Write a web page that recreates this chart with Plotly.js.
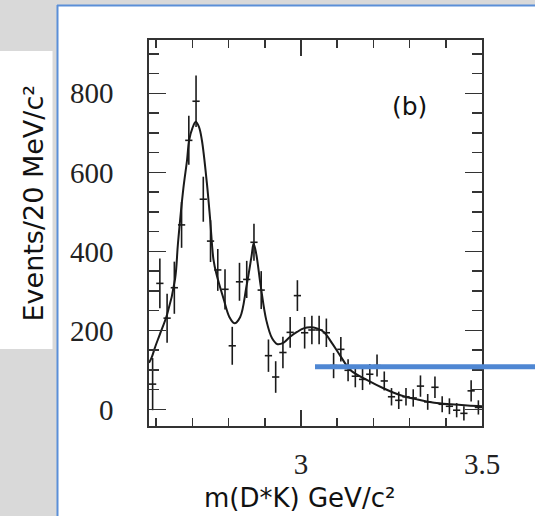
<!DOCTYPE html>
<html>
<head>
<meta charset="utf-8">
<script src="https://cdn.plot.ly/plotly-3.0.1.min.js"></script>
<style>html,body{margin:0;padding:0;background:#fff;}#plot{width:535px;height:516px;}</style>
</head>
<body>
<div id="plot"></div>
<script>
// Measured data points (bin centres, GeV/c^2)
const massBins = [2.59,2.61,2.63,2.65,2.67,2.69,2.71,2.73,2.75,2.77,2.79,2.81,2.83,2.85,2.87,2.89,2.91,2.93,2.95,2.97,2.99,
  3.01,3.03,3.05,3.07,3.09,3.11,3.13,3.15,3.17,3.19,3.21,3.23,3.25,3.27,3.29,3.31,3.33,3.35,3.37,3.39,3.41,3.43,3.45,3.47,3.49];
const events = [64,319,231,308,467,681,780,532,426,353,304,161,323,329,423,302,136,82,144,195,288,
  194,201,201,194,111,152,99,84,76,89,111,72,32,23,32,29,59,19,56,13,8,-2,-10,47,5];
const eventErrors = [66,63,62,66,58,62,65,57,53,53,51,48,48,47,47,48,41,40,40,39,39,
  40,36,36,36,32,31,28,28,27,26,28,24,22,22,22,22,27,20,27,20,20,18,18,27,18];
const halfBin = 0.01;

// Fit curve
const fitMass = [2.58,2.588,2.597,2.61,2.63,2.652,2.66,2.675,2.685,2.691,2.70,2.709,2.718,2.726,2.74,2.749,2.758,2.767,2.786,2.802,2.816,
  2.832,2.849,2.863,2.869,2.876,2.889,2.904,2.92,2.935,2.952,2.97,2.989,3.007,3.026,3.044,3.063,3.086,3.109,3.137,3.183,3.229,3.275,3.322,3.368,3.414,3.46,3.5];
const fitEvents = [118,133,158,190,240,330,420,560,630,682,712,728,715,682,572,480,380,340,280,234,218,
  234,310,386,420,395,310,226,180,165,169,184,196,205,208,205,196,167,135,99,74,53,36,25,17,13,10,8];

const xTickVals = [3, 3.5];
const xTickText = ['3', '3.5'];
const yTickVals = [0, 200, 400, 600, 800];
const yTickText = ['0', '200', '400', '600', '800'];

const L = 149, T = 40, W = 333, H = 386;
const px = p => (p - L) / W;
const py = p => (T + H - p) / H;

const traces = [
  {
    x: fitMass, y: fitEvents, type: 'scatter', mode: 'lines',
    line: {color: '#1a1a1a', width: 2, shape: 'spline', smoothing: 1},
    hoverinfo: 'skip', showlegend: false
  },
  {
    x: massBins, y: events, type: 'scatter', mode: 'markers',
    marker: {size: 2, color: 'rgba(0,0,0,0)'},
    error_y: {type: 'data', array: eventErrors, visible: true, color: '#1a1a1a', thickness: 1.6, width: 0},
    error_x: {type: 'constant', value: halfBin, visible: true, color: '#1a1a1a', thickness: 1.6, width: 0},
    showlegend: false
  }
];

const axisCommon = {
  showline: true, linecolor: '#333', linewidth: 1.6, mirror: 'ticks',
  ticks: 'inside', tickcolor: '#333', tickwidth: 1.6,
  showgrid: false, zeroline: false,
  tickfont: {family: 'Liberation Serif, Times New Roman, serif', size: 29, color: '#222'}
};

const layout = {
  width: 535, height: 516,
  margin: {l: L, r: 535 - L - W, t: T, b: 516 - T - H},
  paper_bgcolor: '#ffffff', plot_bgcolor: '#ffffff',
  showlegend: false,
  xaxis: Object.assign({}, axisCommon, {
    range: [2.58, 3.5], tickmode: 'array', tickvals: xTickVals, ticktext: xTickText,
    ticklen: 16, ticklabelstandoff: 12,
    minor: {dtick: 0.1, tick0: 2.6, ticks: 'inside', ticklen: 8, tickcolor: '#333', tickwidth: 1.6}
  }),
  yaxis: Object.assign({}, axisCommon, {
    range: [-42, 935], tickmode: 'array', tickvals: yTickVals, ticktext: yTickText,
    ticklen: 17, ticklabelstandoff: 28,
    minor: {dtick: 50, tick0: 0, ticks: 'inside', ticklen: 10, tickcolor: '#333', tickwidth: 1.6}
  }),
  shapes: [
    {type: 'rect', xref: 'paper', yref: 'paper', x0: px(0), x1: px(535), y0: py(0), y1: py(5), fillcolor: '#d9d9d9', line: {width: 0}, layer: 'below'},
    {type: 'rect', xref: 'paper', yref: 'paper', x0: px(0), x1: px(57), y0: py(0), y1: py(516), fillcolor: '#d9d9d9', line: {width: 0}, layer: 'below'},
    {type: 'rect', xref: 'paper', yref: 'paper', x0: px(0), x1: px(52.5), y0: py(51), y1: py(349), fillcolor: '#ffffff', line: {width: 0}, layer: 'below'},
    {type: 'line', xref: 'paper', yref: 'paper', x0: px(57), x1: px(535), y0: py(5.5), y1: py(5.5), line: {color: '#5b8fd8', width: 2}, layer: 'below'},
    {type: 'line', xref: 'paper', yref: 'paper', x0: px(57.5), x1: px(57.5), y0: py(5), y1: py(516), line: {color: '#5b8fd8', width: 2}, layer: 'below'},
    {type: 'line', xref: 'paper', yref: 'paper', x0: px(315), x1: px(535), y0: py(366.7), y1: py(366.7), line: {color: '#4f87d3', width: 5}, layer: 'above'}
  ],
  annotations: [
    {text: 'Events/20 MeV/c²', xref: 'paper', yref: 'paper', x: px(33.5), y: py(203), textangle: -90, showarrow: false,
     font: {family: 'DejaVu Sans, Verdana, sans-serif', size: 27, color: '#111'}, xanchor: 'center', yanchor: 'middle'},
    {text: 'm(D*K) GeV/c²', xref: 'paper', yref: 'paper', x: px(299), y: py(498), showarrow: false,
     font: {family: 'DejaVu Sans, Verdana, sans-serif', size: 26, color: '#111'}, xanchor: 'center', yanchor: 'middle'},
    {text: '(b)', xref: 'paper', yref: 'paper', x: px(409), y: py(107), showarrow: false,
     font: {family: 'DejaVu Sans, Verdana, sans-serif', size: 25, color: '#111'}, xanchor: 'center', yanchor: 'middle'}
  ]
};

Plotly.newPlot('plot', traces, layout, {staticPlot: true, displayModeBar: false});
</script>
</body>
</html>
